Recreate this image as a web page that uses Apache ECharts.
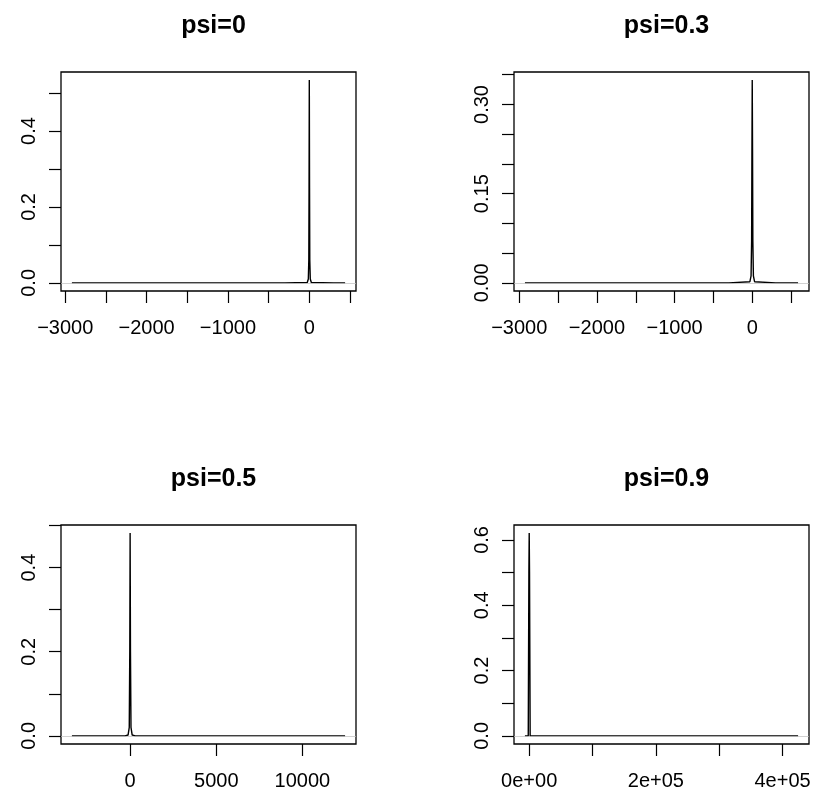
<!DOCTYPE html>
<html>
<head>
<meta charset="utf-8">
<script src="https://cdn.jsdelivr.net/npm/echarts@6/dist/echarts.min.js"></script>
<style>
  html, body { margin: 0; padding: 0; background: #fff; }
  #main { width: 817px; height: 799px; }
</style>
</head>
<body>
<div id="main"></div>
<script>
// panel titles
var titles = ['psi=0', 'psi=0.3', 'psi=0.5', 'psi=0.9'];

// density curves (x, y)
var x1 = [-2918, -300, -25, -12, -6, -3, 0, 3, 6, 12, 25, 300, 440];
var y1 = [0, 0, 0.001, 0.01, 0.06, 0.25, 0.534, 0.25, 0.06, 0.01, 0.001, 0, 0];

var x2 = [-2927, -300, -30, -15, -8, -4, 0, 4, 8, 15, 30, 300, 590];
var y2 = [0, 0, 0.002, 0.012, 0.07, 0.22, 0.341, 0.22, 0.07, 0.012, 0.002, 0, 0];

var x3 = [-3378, -300, -120, -50, -20, 0, 20, 50, 120, 300, 12476];
var y3 = [0, 0, 0.002, 0.02, 0.2, 0.482, 0.2, 0.02, 0.002, 0, 0];

var x4 = [-6760, -1500, -500, 0, 500, 1500, 424500];
var y4 = [0, 0, 0.5, 0.621, 0.5, 0, 0];

// axis limits (plot box)
var xLim = [[-3052, 574], [-3068, 731], [-4012, 13110], [-24010, 441750]];
var yLim = [[-0.0214, 0.5554], [-0.0136, 0.3546], [-0.0193, 0.5013], [-0.0248, 0.6458]];

// ticks and tick labels
var xTicks1 = [-3000, -2500, -2000, -1500, -1000, -500, 0, 500];
var xLabVals1 = [-3000, -2000, -1000, 0];
var xLabTxt1 = ['\u22123000', '\u22122000', '\u22121000', '0'];
var xTicks3 = [0, 5000, 10000];
var xLabVals3 = [0, 5000, 10000];
var xLabTxt3 = ['0', '5000', '10000'];
var xTicks4 = [0, 100000, 200000, 300000, 400000];
var xLabVals4 = [0, 200000, 400000];
var xLabTxt4 = ['0e+00', '2e+05', '4e+05'];

var yTicks1 = [0, 0.1, 0.2, 0.3, 0.4, 0.5];
var yLabVals1 = [0, 0.2, 0.4];
var yLabTxt1 = ['0.0', '0.2', '0.4'];
var yTicks2 = [0, 0.05, 0.1, 0.15, 0.2, 0.25, 0.3, 0.35];
var yLabVals2 = [0, 0.15, 0.3];
var yLabTxt2 = ['0.00', '0.15', '0.30'];
var yTicks3 = [0, 0.1, 0.2, 0.3, 0.4, 0.5];
var yTicks4 = [0, 0.1, 0.2, 0.3, 0.4, 0.5, 0.6];
var yLabVals4 = [0, 0.2, 0.4, 0.6];
var yLabTxt4 = ['0.0', '0.2', '0.4', '0.6'];

var panels = [
  { x: x1, y: y1, xt: xTicks1, xv: xLabVals1, xs: xLabTxt1, yt: yTicks1, yv: yLabVals1, ys: yLabTxt1 },
  { x: x2, y: y2, xt: xTicks1, xv: xLabVals1, xs: xLabTxt1, yt: yTicks2, yv: yLabVals2, ys: yLabTxt2 },
  { x: x3, y: y3, xt: xTicks3, xv: xLabVals3, xs: xLabTxt3, yt: yTicks3, yv: yLabVals1, ys: yLabTxt1 },
  { x: x4, y: y4, xt: xTicks4, xv: xLabVals4, xs: xLabTxt4, yt: yTicks4, yv: yLabVals4, ys: yLabTxt4 }
];

var FONT = '"Liberation Sans", Arial, Helvetica, sans-serif';
var gridLeft = [61, 514, 61, 514];
var gridTop = [72, 72, 525, 525];
var gridW = 295, gridH = 219;

function lookup(vals, txt) {
  return function (v) {
    for (var i = 0; i < vals.length; i++) {
      if (Math.abs(vals[i] - v) < 1e-9) return txt[i];
    }
    return '';
  };
}

var option = {
  animation: false,
  backgroundColor: '#fff',
  title: [], grid: [], xAxis: [], yAxis: [], series: []
};

panels.forEach(function (p, i) {
  option.title.push({
    text: titles[i],
    left: gridLeft[i] + gridW / 2,
    top: gridTop[i] - 63,
    textAlign: 'center',
    textStyle: { fontFamily: FONT, fontWeight: 'bold', fontSize: 25, color: '#000' }
  });
  option.grid.push({
    left: gridLeft[i], top: gridTop[i], width: gridW, height: gridH,
    show: true, borderColor: '#000', borderWidth: 1.3, containLabel: false
  });
  option.xAxis.push({
    type: 'value', gridIndex: i, min: xLim[i][0], max: xLim[i][1],
    axisLine: { show: false, onZero: false },
    splitLine: { show: false },
    axisTick: { show: true, inside: false, length: 12, customValues: p.xt, lineStyle: { color: '#000', width: 1.2 } },
    axisLabel: { show: true, customValues: p.xv, formatter: lookup(p.xv, p.xs), margin: 27,
      fontFamily: FONT, fontSize: 20, color: '#000', hideOverlap: false }
  });
  option.yAxis.push({
    type: 'value', gridIndex: i, min: yLim[i][0], max: yLim[i][1],
    axisLine: { show: false, onZero: false },
    splitLine: { show: false },
    axisTick: { show: true, inside: false, length: 12, customValues: p.yt, lineStyle: { color: '#000', width: 1.2 } },
    axisLabel: { show: true, customValues: p.yv, formatter: lookup(p.yv, p.ys), margin: 22, rotate: 90,
      fontFamily: FONT, fontSize: 20, color: '#000', hideOverlap: false }
  });
  var pts = p.x.map(function (xv, k) { return [xv, p.y[k]]; });
  option.series.push({
    type: 'line', xAxisIndex: i, yAxisIndex: i,
    data: pts, symbol: 'none', smooth: false,
    lineStyle: { color: '#000', width: 1.4 },
    markLine: {
      silent: true, symbol: ['none', 'none'], label: { show: false },
      lineStyle: { color: '#bebebe', type: 'solid', width: 1, opacity: 0.7 },
      data: [{ yAxis: 0 }]
    }
  });
});

var myChart = echarts.init(document.getElementById('main'), null, { renderer: 'canvas' });
myChart.setOption(option);
</script>
</body>
</html>
